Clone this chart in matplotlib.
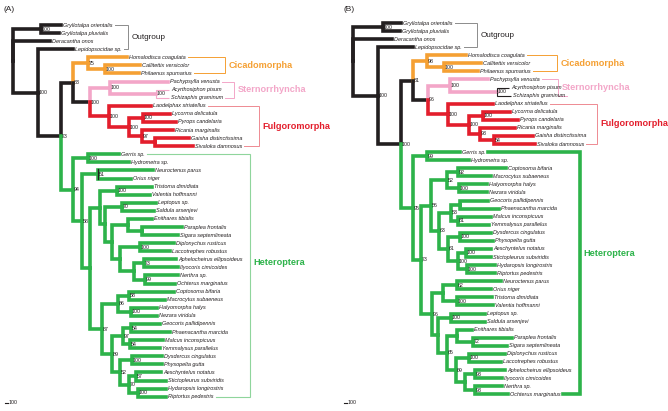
import matplotlib
matplotlib.use("Agg")
import matplotlib.pyplot as plt

# trees as newick strings; the number after ':' is the node depth (x, in pixels),
# the number after ')' is the bootstrap support
outgroup_A = "(Gryllotalpa orientalis:61,Gryllotalpa pluvialis:59)100:41,Deracantha onos:50"
cicado_A = "(Homalodisca coagulata:127,(Callitettix versicolor:140,Philaenus spumarius:139)100:105)75:88"
stern_A = "(Pachypsylla venusta:168,(Acyrthosiphon pisum:169,Schizaphis graminum:169)100:156)100:110"
fulgo_A = ("(Laodelphax striatellus:151,((Lycorma delicatula:170,Pyrops candelaria:176)100:143,"
           "(Ricania marginalis:173,(Gaisha distinctissima:189,Sivaloka damnosus:193):155)97:142)100:129)100:109")
cimico_A = ("(Tristoma dimidiata:152,Valentia hoffmanni:150)100:117,((Leptopus sp.:156,Saldula arsenjevi:154)70:122,"
            "((Enithares tibialis:152,(Paraplea frontalis:182,Sigara septemlineata:178):142):128,"
            "((Diplonychus rusticus:174,Laccotrephes robustus:170)100:140,((Aphelocheirus ellipsoideus:176,"
            "Ilyocoris cimicoides:178)73:144,(Nerthra sp.:178,Ochterus marginatus:175)99:145):134):120):112):105")
penta_A = ("((Coptosoma bifaria:174,Macrocytus subaeneus:165)58:129,(Halyomorpha halys:157,Nezara viridula:157)100:131)86:118,"
           "(((Geocoris pallidipennis:160,Phaenacantha marcida:170)54:131,(Malcus inconspicuus:163,Yemmalysus parallelus:160)54:130)97:123,"
           "((Dysdercus cingulatus:162,Physopelta gutta:162)100:132,((Aeschyntelus notatus:161,Stictopleurus subviridis:166)57:136,"
           "(Hydaropsis longirostris:166,Riptortus pedestris:166)100:138)70:129)52:120)89:112")
hetero_A = ("((Gerris sp.:119,Hydrometra sp.:129)100:88,((Neuroctenus parus:153,Orius niger:131)51:98,"
            "((" + cimico_A + "):100,(" + penta_A + ")87:102):90)58:82)94:73")
tree_A = ("(" + outgroup_A + ",(Lepidopsocidae sp.:73,((" + cicado_A + ",(" + stern_A + "," + fulgo_A + ")100:90)83:73,"
          + hetero_A + ")73:61)100:38):13")

outgroup_B = "(Gryllotalpa orientalis:401,Gryllotalpa pluvialis:400)100:383,Deracantha onos:392"
cicado_B = "(Homalodisca coagulata:466,(Callitettix versicolor:481,Philaenus spumarius:478)100:444)98:427"
stern_B = "(Pachypsylla venusta:488,(Acyrthosiphon pisum:509,Schizaphis graminum:511)100:497)100:450"
fulgo_B = ("(Laodelphax striatellus:493,((Lycorma delicatula:510,Pyrops candelaria:518)100:483,"
           "(Ricania marginalis:515,(Gaisha distinctissima:533,Sivaloka damnosus:535)54:494)93:480)100:469)100:448")
penta_B = ("((Coptosoma bifaria:506,Macrocytus subaeneus:491)92:458,(Halyomorpha halys:487,Nezara viridula:487)100:459)52:447,"
           "(((Geocoris pallidipennis:488,Phaenacantha marcida:499):460,(Malcus inconspicuus:491,Yemmalysus parallelus:489)81:458)53:451,"
           "((Dysdercus cingulatus:491,Physopelta gutta:493)100:460,((Aeschyntelus notatus:491,Stictopleurus subviridis:491)100:466,"
           "(Hydaropsis longirostris:495,Riptortus pedestris:495)100:467)100:458)61:448)63:439")
cimico_B = ("((Neuroctenus parus:501,Orius niger:491)62:457,(Tristoma dimidiata:492,Valentia hoffmanni:493)100:457):443,"
            "((Leptopus sp.:485,Saldula arsenjevi:485)100:451,((Enithares tibialis:472,(Paraplea frontalis:512,"
            "Sigara septemlineata:507)72:473):457,((Diplonychus rusticus:505,Laccotrephes robustus:501)100:469,"
            "((Aphelocheirus ellipsoideus:505,Ilyocoris cimicoides:502)93:475,(Nerthra sp.:502,Ochterus marginatus:508)93:475):465)69:456)65:447):438")
hetero_B = ("((Gerris sp.:460,Hydrometra sp.:469)99:427,((" + penta_B + ")56:431,(" + cimico_B + ")96:432)73:421)95:413")
tree_B = ("(" + outgroup_B + ",(Lepidopsocidae sp.:413,((" + cicado_B + ",(" + stern_B + "," + fulgo_B + ")96:428)81:413,"
          + hetero_B + ")100:401)100:378):353")

outgroup = ["Gryllotalpa orientalis", "Gryllotalpa pluvialis", "Deracantha onos", "Lepidopsocidae sp."]
cicadomorpha = ["Homalodisca coagulata", "Callitettix versicolor", "Philaenus spumarius"]
sternorrhyncha = ["Pachypsylla venusta", "Acyrthosiphon pisum", "Schizaphis graminum"]
fulgoromorpha = ["Laodelphax striatellus", "Lycorma delicatula", "Pyrops candelaria", "Ricania marginalis",
                 "Gaisha distinctissima", "Sivaloka damnosus"]

BLACK = "#231f20"
ORANGE = "#f5a033"
PINK = "#f3a6c8"
RED = "#e31e2c"
GREEN = "#2db34a"
LW = 2.6

colour_of = {}
for n in outgroup:
    colour_of[n] = BLACK
for n in cicadomorpha:
    colour_of[n] = ORANGE
for n in sternorrhyncha:
    colour_of[n] = PINK
for n in fulgoromorpha:
    colour_of[n] = RED


def parse(s):
    pos = 0

    def node():
        nonlocal pos
        kids = []
        if s[pos] == "(":
            pos += 1
            kids.append(node())
            while s[pos] == ",":
                pos += 1
                kids.append(node())
            pos += 1
        start = pos
        while s[pos] not in ":,)":
            pos += 1
        label = s[start:pos].strip()
        pos += 1
        start = pos
        while pos < len(s) and s[pos] not in ",)":
            pos += 1
        return {"label": label, "x": float(s[start:pos]), "kids": kids}

    return node()


def layout(n, leaves):
    # leaves in drawing order; a node takes its clade colour, or black if mixed
    if not n["kids"]:
        leaves.append(n)
        n["colour"] = colour_of.get(n["label"], GREEN)
        return
    for k in n["kids"]:
        layout(k, leaves)
    n["colour"] = n["kids"][0]["colour"]
    if any(k["colour"] != n["colour"] for k in n["kids"]):
        n["colour"] = BLACK


def set_y(n):
    if n["kids"]:
        for k in n["kids"]:
            set_y(k)
        n["y"] = (n["kids"][0]["y"] + n["kids"][-1]["y"]) / 2


plt.rcParams["font.family"] = ["Liberation Sans", "DejaVu Sans"]
fig = plt.figure(figsize=(6.68, 4.11), dpi=100)
ax = fig.add_axes([0, 0, 1, 1])
ax.set_xlim(0, 668)
ax.set_ylim(411, 0)
ax.axis("off")

thin = ["Acyrthosiphon pisum", "Schizaphis graminum"]


def draw_tree(s, y0, dy, thin_colour):
    root = parse(s)
    leaves = []
    layout(root, leaves)
    for i, lf in enumerate(leaves):
        lf["y"] = y0 + i * dy
    set_y(root)
    texts = {}

    def walk(n):
        for k in n["kids"]:
            lw, c = LW, k["colour"]
            if k["label"] in thin:
                lw, c = 0.8, thin_colour
            ax.plot([n["x"], n["x"], k["x"]], [n["y"], k["y"], k["y"]], color=c, lw=lw,
                    solid_joinstyle="miter", solid_capstyle="projecting" if lw > 1 else "butt", zorder=2)
            walk(k)
        if n["kids"] and n["label"]:
            ax.text(n["x"] + 0.8, n["y"], n["label"], fontsize=3.8, va="center", ha="left", color=BLACK, zorder=4)
        if not n["kids"]:
            texts[n["label"]] = ax.text(n["x"] + 2, n["y"], n["label"], fontsize=4.0, style="italic",
                                        va="center", ha="left", color=BLACK, zorder=4)

    walk(root)
    return root, leaves, texts


def find_parent(n, name):
    for k in n["kids"]:
        if k["label"] == name:
            return n
        p = find_parent(k, name)
        if p:
            return p
    return None


root_A, leaves_A, texts_A = draw_tree(tree_A, 25, 8.08, PINK)
root_B, leaves_B, texts_B = draw_tree(tree_B, 23, 8.07, BLACK)

# black tick on the Neuroctenus/Orius node in panel A
p = find_parent(root_A, "Neuroctenus parus")
ax.plot([p["x"], p["x"]], [p["kids"][0]["y"] - 1.5, p["kids"][1]["y"]], color=BLACK, lw=0.9, zorder=3)

fig.canvas.draw()
renderer = fig.canvas.get_renderer()
inv = ax.transData.inverted()


def text_end(t):
    bb = t.get_window_extent(renderer)
    return inv.transform((bb.x1, bb.y0))[0]


# (first leaf, last leaf, bracket x, name, text colour, line colour, line width, bold, size, text y)
brackets_A = [
    ("Gryllotalpa orientalis", "Lepidopsocidae sp.", 128, "Outgroup", BLACK, "#8c8c8c", 0.7, False, 5.9, None),
    ("Homalodisca coagulata", "Philaenus spumarius", 225, "Cicadomorpha", ORANGE, ORANGE, 0.7, True, 6.6, None),
    ("Pachypsylla venusta", "Schizaphis graminum", 234, "Sternorrhyncha", PINK, PINK, 0.7, True, 6.6, None),
    ("Laodelphax striatellus", "Sivaloka damnosus", 259, "Fulgoromorpha", RED, "#ee8a92", 0.7, True, 6.6, None),
    ("Gerris sp.", "Riptortus pedestris", 250, "Heteroptera", GREEN, "#8fd59c", 0.8, True, 6.6, 262),
]
brackets_B = [
    ("Gryllotalpa orientalis", "Lepidopsocidae sp.", 477, "Outgroup", BLACK, "#8c8c8c", 0.7, False, 5.9, None),
    ("Homalodisca coagulata", "Philaenus spumarius", 557, "Cicadomorpha", ORANGE, ORANGE, 0.7, True, 6.6, None),
    ("Pachypsylla venusta", "Schizaphis graminum", 558, "Sternorrhyncha", PINK, PINK, 0.7, True, 6.6, None),
    ("Laodelphax striatellus", "Sivaloka damnosus", 597, "Fulgoromorpha", RED, "#ee8a92", 0.7, True, 6.6, None),
    ("Gerris sp.", "Ochterus marginatus", 580, "Heteroptera", GREEN, GREEN, LW, True, 6.6, 253),
]


def draw_brackets(brackets, leaves, texts):
    ys = {lf["label"]: lf["y"] for lf in leaves}
    for first, last, bx, name, tc, lc, lw, bold, size, ty in brackets:
        y1, y2 = ys[first], ys[last]
        x1, x2 = text_end(texts[first]) + 2, text_end(texts[last]) + 2
        ax.plot([x1, bx, bx, x2], [y1, y1, y2, y2], color=lc, lw=lw, solid_joinstyle="miter", zorder=1)
        ax.text(bx + 3.5, ty if ty else (y1 + y2) / 2, name, color=tc, fontsize=size,
                fontweight="bold" if bold else "normal", va="center", ha="left")


draw_brackets(brackets_A, leaves_A, texts_A)
draw_brackets(brackets_B, leaves_B, texts_B)

# panel letters and scale bars
for px, letter in [(4, "(A)"), (343, "(B)")]:
    ax.text(px, 9.5, letter, fontsize=6, va="center", ha="left", color=BLACK)
    ax.plot([px + 1, px + 4], [403, 403], color=BLACK, lw=0.8)
    ax.text(px + 4.5, 402, "100", fontsize=3.8, va="center", ha="left", color=BLACK)

fig.savefig("out.png", dpi=100)
